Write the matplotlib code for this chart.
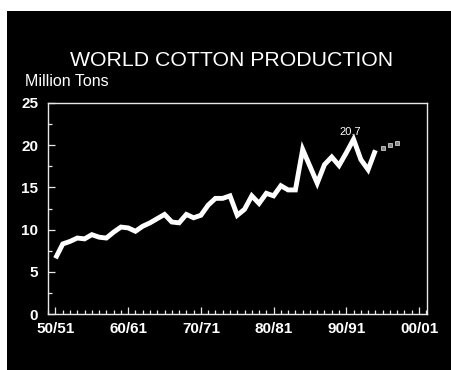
import numpy as np
import matplotlib.pyplot as plt
from matplotlib.patches import Rectangle
from matplotlib.ticker import MultipleLocator

# Crop years (start year of each season) and world output, million tons
years = [1950, 1951, 1952, 1953, 1954, 1955, 1956, 1957, 1958, 1959,
         1960, 1961, 1962, 1963, 1964, 1965, 1966, 1967, 1968, 1969,
         1970, 1971, 1972, 1973, 1974, 1975, 1976, 1977, 1978, 1979,
         1980, 1981, 1982, 1983, 1984, 1985, 1986, 1987, 1988, 1989,
         1990, 1991, 1992, 1993, 1994]
production = [6.6, 8.3, 8.6, 9.0, 8.9, 9.4, 9.1, 9.0, 9.7, 10.3,
              10.2, 9.8, 10.4, 10.8, 11.3, 11.8, 10.9, 10.8, 11.8, 11.4,
              11.7, 12.9, 13.7, 13.7, 14.0, 11.7, 12.4, 14.0, 13.1, 14.3,
              14.0, 15.2, 14.7, 14.7, 19.5, 17.5, 15.5, 17.7, 18.6, 17.6,
              19.1, 20.7, 18.3, 17.1, 19.4]

# projected seasons
proj_years = [1995, 1996, 1997]
proj_values = [19.7, 20.0, 20.3]

peak_year = 1991
peak_value = 20.7

tick_years = [1950, 1960, 1970, 1980, 1990, 2000]
tick_labels = ['50/51', '60/61', '70/71', '80/81', '90/91', '00/01']

plt.rcParams['font.family'] = ['Liberation Sans', 'DejaVu Sans']

fig = plt.figure(figsize=(4.51, 3.70), dpi=100, facecolor='white')
# dark slide area, leaving a thin white border at top and left
fig.patches.append(Rectangle((7 / 451, 0), 1, 1 - 11 / 370,
                             transform=fig.transFigure, facecolor='black',
                             edgecolor='none', zorder=-10))

ax = fig.add_axes([48 / 451, 56 / 370, 379 / 451, 211 / 370])
ax.set_facecolor('black')

ax.plot(years, production, color='white', linewidth=3.5,
        solid_joinstyle='miter', solid_capstyle='butt')
ax.plot(proj_years, proj_values, linestyle='none', marker='s',
        markersize=3.2, markerfacecolor='#8a8a8a',
        markeredgecolor='#cfcfcf', markeredgewidth=0.6)
ax.text(peak_year - 0.5, peak_value + 0.3, f'{peak_value:.1f}',
        color='white', fontsize=8, ha='center', va='bottom')

ax.set_xlim(1948.97, 2001.1)
ax.set_ylim(0, 25)
ax.set_xticks(tick_years)
ax.set_xticklabels(tick_labels)
ax.xaxis.set_minor_locator(MultipleLocator(1))
ax.set_yticks([0, 5, 10, 15, 20, 25])
ax.yaxis.set_minor_locator(MultipleLocator(2.5))

for s in ax.spines.values():
    s.set_color('#e8e8e8')
    s.set_linewidth(1.0)

ax.tick_params(which='both', direction='in', colors='#e8e8e8', width=0.9,
               top=False, right=False)
ax.tick_params(which='major', length=5, labelsize=11, labelcolor='white', pad=6)
ax.tick_params(which='minor', length=3)
ax.tick_params(axis='y', which='major', pad=7)
for lab in ax.get_xticklabels() + ax.get_yticklabels():
    lab.set_fontweight('bold')

fig.text(232 / 451, 1 - 60 / 370, 'WORLD COTTON PRODUCTION', color='white',
         fontsize=15.3, ha='center', va='center')
fig.text(25 / 451, 1 - 81 / 370, 'Million Tons', color='white',
         fontsize=11.5, ha='left', va='center')

fig.savefig('out.png', dpi=100, facecolor=fig.get_facecolor())
